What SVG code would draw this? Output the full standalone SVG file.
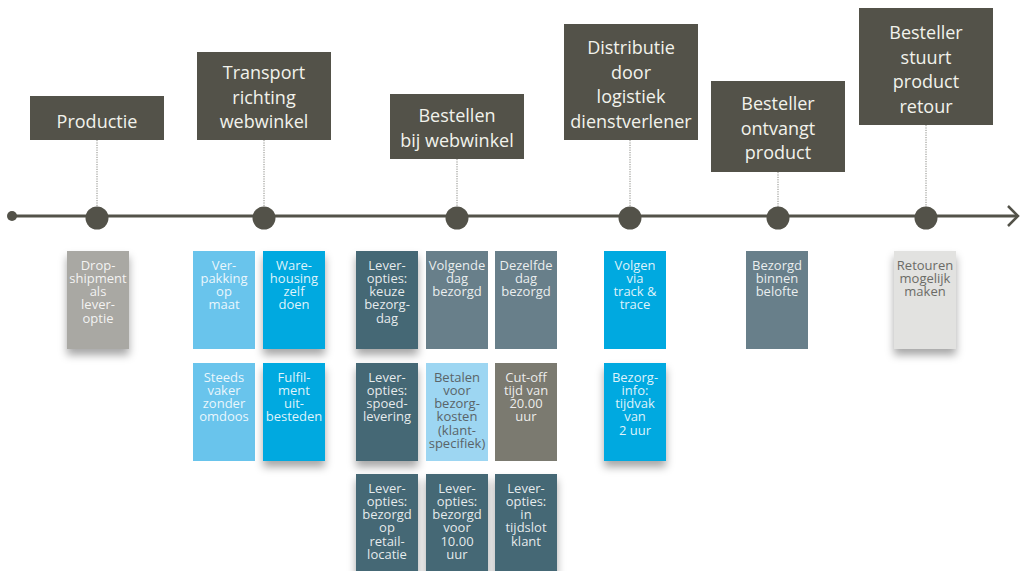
<svg xmlns="http://www.w3.org/2000/svg" width="1024" height="571" viewBox="0 0 1024 571">
<style>
.hdr{fill:#535249}
.ht{font-family:"Open Sans","Liberation Sans",sans-serif;font-size:18px;fill:#f2f2ec;text-anchor:middle}
.ct{font-family:"Open Sans","Liberation Sans",sans-serif;font-size:13px;fill:#ffffff;fill-opacity:0.88;text-anchor:middle}
.dk{fill:#5a6468;fill-opacity:1}
.gr{fill:#6b6b66;fill-opacity:1}
.dot{fill:#535249}
.vl{stroke:#8a8a84;stroke-width:1;stroke-dasharray:1.2 1.2;fill:none}
.sh{filter:url(#shd)}
</style>
<defs>
<filter id="shd" x="-30%" y="-20%" width="160%" height="150%">
<feDropShadow dx="0" dy="6" stdDeviation="4" flood-color="#000" flood-opacity="0.35"/>
</filter>
</defs>
<g id="connectors">
<line x1="12" y1="216" x2="1017" y2="216" stroke="#535249" stroke-width="3"/>
<polyline points="1008,206 1018,216 1008,226" fill="none" stroke="#535249" stroke-width="2.5"/>
<circle cx="12" cy="216" r="5" class="dot"/>
<line class="vl" x1="97" y1="140" x2="97" y2="207"/>
<line class="vl" x1="264" y1="140" x2="264" y2="207"/>
<line class="vl" x1="457" y1="159" x2="457" y2="207"/>
<line class="vl" x1="630" y1="140" x2="630" y2="207"/>
<line class="vl" x1="778" y1="172" x2="778" y2="207"/>
<line class="vl" x1="926" y1="125" x2="926" y2="207"/>
<circle cx="97" cy="218" r="11.5" class="dot"/>
<circle cx="264" cy="218" r="11.5" class="dot"/>
<circle cx="457" cy="218" r="11.5" class="dot"/>
<circle cx="630" cy="218" r="11.5" class="dot"/>
<circle cx="778" cy="218" r="11.5" class="dot"/>
<circle cx="926" cy="218" r="11.5" class="dot"/>
</g>
<g id="h-productie"><rect class="hdr" x="30" y="96" width="134" height="44"/><text class="ht" x="97" y="128">Productie</text></g>
<g id="h-transport"><rect class="hdr" x="197" y="52" width="134" height="88"/><text class="ht" x="264" y="79"><tspan x="264">Transport</tspan><tspan x="264" dy="24.5">richting</tspan><tspan x="264" dy="24.5">webwinkel</tspan></text></g>
<g id="h-bestellen"><rect class="hdr" x="390" y="94" width="134" height="65"/><text class="ht" x="457" y="122"><tspan x="457">Bestellen</tspan><tspan x="457" dy="24.5">bij webwinkel</tspan></text></g>
<g id="h-distributie"><rect class="hdr" x="564" y="24" width="134" height="116"/><text class="ht" x="631" y="54"><tspan x="631">Distributie</tspan><tspan x="631" dy="24.5">door</tspan><tspan x="631" dy="24.5">logistiek</tspan><tspan x="631" dy="24.5">dienstverlener</tspan></text></g>
<g id="h-ontvangt"><rect class="hdr" x="711" y="81" width="134" height="91"/><text class="ht" x="778" y="110"><tspan x="778">Besteller</tspan><tspan x="778" dy="24.5">ontvangt</tspan><tspan x="778" dy="24.5">product</tspan></text></g>
<g id="h-retour"><rect class="hdr" x="859" y="8" width="134" height="117"/><text class="ht" x="926" y="39"><tspan x="926">Besteller</tspan><tspan x="926" dy="24.5">stuurt</tspan><tspan x="926" dy="24.5">product</tspan><tspan x="926" dy="24.5">retour</tspan></text></g>

<g id="c-drop"><rect class="sh" x="67" y="251" width="62" height="98" fill="#a9a8a3"/><text class="ct" y="269.5"><tspan x="98">Drop-</tspan><tspan x="98" dy="13.3">shipment</tspan><tspan x="98" dy="13.3">als</tspan><tspan x="98" dy="13.3">lever-</tspan><tspan x="98" dy="13.3">optie</tspan></text></g>
<g id="c-verpakking"><rect x="193" y="251" width="62" height="98" fill="#69c4ec"/><text class="ct" y="269.5"><tspan x="224">Ver-</tspan><tspan x="224" dy="13.3">pakking</tspan><tspan x="224" dy="13.3">op</tspan><tspan x="224" dy="13.3">maat</tspan></text></g>
<g id="c-warehousing"><rect class="sh" x="263" y="251" width="62" height="98" fill="#00a9e0"/><text class="ct" y="269.5"><tspan x="294">Ware-</tspan><tspan x="294" dy="13.3">housing</tspan><tspan x="294" dy="13.3">zelf</tspan><tspan x="294" dy="13.3">doen</tspan></text></g>
<g id="c-keuze"><rect class="sh" x="356" y="251" width="62" height="98" fill="#456874"/><text class="ct" y="269.5"><tspan x="387">Lever-</tspan><tspan x="387" dy="13.3">opties:</tspan><tspan x="387" dy="13.3">keuze</tspan><tspan x="387" dy="13.3">bezorg-</tspan><tspan x="387" dy="13.3">dag</tspan></text></g>
<g id="c-volgende"><rect x="426" y="251" width="62" height="98" fill="#687f8a"/><text class="ct" y="269.5"><tspan x="457">Volgende</tspan><tspan x="457" dy="13.3">dag</tspan><tspan x="457" dy="13.3">bezorgd</tspan></text></g>
<g id="c-dezelfde"><rect x="495" y="251" width="62" height="98" fill="#687f8a"/><text class="ct" y="269.5"><tspan x="526">Dezelfde</tspan><tspan x="526" dy="13.3">dag</tspan><tspan x="526" dy="13.3">bezorgd</tspan></text></g>
<g id="c-volgen"><rect x="604" y="251" width="62" height="98" fill="#00a9e0"/><text class="ct" y="269.5"><tspan x="635">Volgen</tspan><tspan x="635" dy="13.3">via</tspan><tspan x="635" dy="13.3">track &amp;</tspan><tspan x="635" dy="13.3">trace</tspan></text></g>
<g id="c-binnen"><rect x="746" y="251" width="62" height="98" fill="#687f8a"/><text class="ct" y="269.5"><tspan x="777">Bezorgd</tspan><tspan x="777" dy="13.3">binnen</tspan><tspan x="777" dy="13.3">belofte</tspan></text></g>
<g id="c-retouren"><rect class="sh" x="894" y="251" width="62" height="98" fill="#e2e2e0"/><text class="ct gr" y="269.5"><tspan x="925">Retouren</tspan><tspan x="925" dy="13.3">mogelijk</tspan><tspan x="925" dy="13.3">maken</tspan></text></g>

<g id="c-steeds"><rect x="193" y="363" width="62" height="98" fill="#69c4ec"/><text class="ct" y="381.5"><tspan x="224">Steeds</tspan><tspan x="224" dy="13.3">vaker</tspan><tspan x="224" dy="13.3">zonder</tspan><tspan x="224" dy="13.3">omdoos</tspan></text></g>
<g id="c-fulfilment"><rect class="sh" x="263" y="363" width="62" height="98" fill="#00a9e0"/><text class="ct" y="381.5"><tspan x="294">Fulfil-</tspan><tspan x="294" dy="13.3">ment</tspan><tspan x="294" dy="13.3">uit-</tspan><tspan x="294" dy="13.3">besteden</tspan></text></g>
<g id="c-spoed"><rect class="sh" x="356" y="363" width="62" height="98" fill="#456874"/><text class="ct" y="381.5"><tspan x="387">Lever-</tspan><tspan x="387" dy="13.3">opties:</tspan><tspan x="387" dy="13.3">spoed-</tspan><tspan x="387" dy="13.3">levering</tspan></text></g>
<g id="c-betalen"><rect x="426" y="363" width="62" height="98" fill="#9dd6f2"/><text class="ct dk" y="381.5"><tspan x="457">Betalen</tspan><tspan x="457" dy="13.3">voor</tspan><tspan x="457" dy="13.3">bezorg-</tspan><tspan x="457" dy="13.3">kosten</tspan><tspan x="457" dy="13.3">(klant-</tspan><tspan x="457" dy="13.3">specifiek)</tspan></text></g>
<g id="c-cutoff"><rect x="495" y="363" width="62" height="98" fill="#7b7a70"/><text class="ct" y="381.5"><tspan x="526">Cut-off</tspan><tspan x="526" dy="13.3">tijd van</tspan><tspan x="526" dy="13.3">20.00</tspan><tspan x="526" dy="13.3">uur</tspan></text></g>
<g id="c-bezorginfo"><rect class="sh" x="604" y="363" width="62" height="98" fill="#00a9e0"/><text class="ct" y="381.5"><tspan x="635">Bezorg-</tspan><tspan x="635" dy="13.3">info:</tspan><tspan x="635" dy="13.3">tijdvak</tspan><tspan x="635" dy="13.3">van</tspan><tspan x="635" dy="13.3">2 uur</tspan></text></g>

<g id="c-retail"><rect class="sh" x="356" y="474" width="62" height="110" fill="#456874"/><text class="ct" y="492.5"><tspan x="387">Lever-</tspan><tspan x="387" dy="13.3">opties:</tspan><tspan x="387" dy="13.3">bezorgd</tspan><tspan x="387" dy="13.3">op</tspan><tspan x="387" dy="13.3">retail-</tspan><tspan x="387" dy="13.3">locatie</tspan></text></g>
<g id="c-voor10"><rect class="sh" x="426" y="474" width="62" height="110" fill="#456874"/><text class="ct" y="492.5"><tspan x="457">Lever-</tspan><tspan x="457" dy="13.3">opties:</tspan><tspan x="457" dy="13.3">bezorgd</tspan><tspan x="457" dy="13.3">voor</tspan><tspan x="457" dy="13.3">10.00</tspan><tspan x="457" dy="13.3">uur</tspan></text></g>
<g id="c-tijdslot"><rect class="sh" x="495" y="474" width="62" height="110" fill="#456874"/><text class="ct" y="492.5"><tspan x="526">Lever-</tspan><tspan x="526" dy="13.3">opties:</tspan><tspan x="526" dy="13.3">in</tspan><tspan x="526" dy="13.3">tijdslot</tspan><tspan x="526" dy="13.3">klant</tspan></text></g>
</svg>
